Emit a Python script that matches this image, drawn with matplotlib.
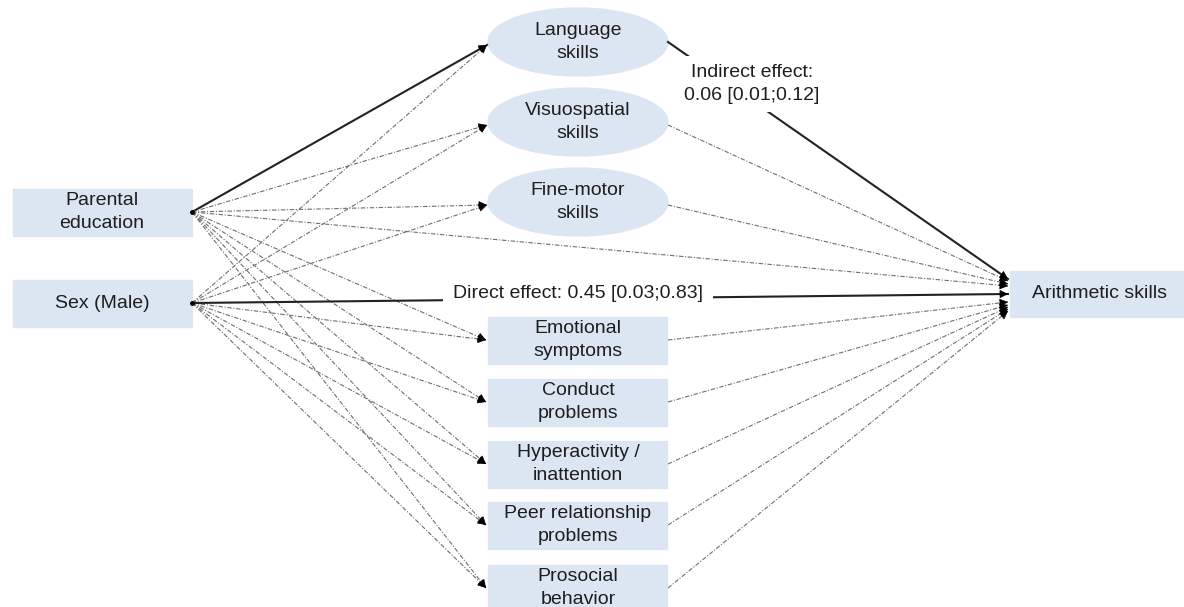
import matplotlib.pyplot as plt
from matplotlib.patches import Ellipse, Rectangle

plt.rcParams['font.family'] = ['Liberation Sans', 'DejaVu Sans']

# node labels
predictors = ['Parental\neducation', 'Sex (Male)']
cognitive = ['Language\nskills', 'Visuospatial\nskills', 'Fine-motor\nskills']
behaviour = ['Emotional\nsymptoms', 'Conduct\nproblems', 'Hyperactivity /\ninattention',
             'Peer relationship\nproblems', 'Prosocial\nbehavior']
outcome = 'Arithmetic skills'
indirect_label = 'Indirect effect:\n0.06 [0.01;0.12]'
direct_label = 'Direct effect: 0.45 [0.03;0.83]'

# layout (pixels)
pred_y = [212, 303]
cog_y = [42, 122, 202]
beh_y = [340, 402, 464, 525, 588]
out_y = 294
out_in_y_cog = [279, 281, 284]
out_in_y_beh = [302, 305, 307, 309, 311]
pe_out_y = 286

box_col = '#dce6f2'
txt_col = '#1e1e1e'
fs = 14
ls_ = 1.4
dash = (0, (4, 1.5, 1, 1.5))

fig = plt.figure(figsize=(11.84, 6.07), dpi=100)
ax = fig.add_axes([0, 0, 1, 1])
ax.set_xlim(0, 1184)
ax.set_ylim(607, 0)
ax.axis('off')


def arrow(x0, y0, x1, y1, solid=False):
    if solid:
        ax.plot([x0, x1], [y0, y1], color='#222222', lw=1.5, zorder=2)
    else:
        ax.plot([x0, x1], [y0, y1], color='#6e6e6e', lw=0.8, ls=dash, zorder=2)
    dx, dy = x1 - x0, y1 - y0
    d = (dx ** 2 + dy ** 2) ** 0.5
    ax.annotate('', xy=(x1, y1), xytext=(x1 - dx / d * 6, y1 - dy / d * 6),
                arrowprops=dict(arrowstyle='-|>', color='black', lw=0.5,
                                mutation_scale=13, shrinkA=0, shrinkB=0), zorder=3)


# boxes for predictors
for lab, y in zip(predictors, pred_y):
    ax.add_patch(Rectangle((13, y - 23), 179, 47, color=box_col, zorder=1))
    ax.text(102, y, lab, ha='center', va='center', fontsize=fs, linespacing=ls_, color=txt_col)
    ax.plot(192, y, 'o', color='black', ms=2.5, zorder=4)

for lab, y in zip(cognitive, cog_y):
    ax.add_patch(Ellipse((578, y), 180, 68, color=box_col, zorder=1))
    ax.text(578, y, lab, ha='center', va='center', fontsize=fs, linespacing=ls_, color=txt_col, zorder=5)

for lab, y in zip(behaviour, beh_y):
    ax.add_patch(Rectangle((488, y - 23), 179, 47, color=box_col, zorder=1))
    ax.text(578, y, lab, ha='center', va='center', fontsize=fs, linespacing=ls_, color=txt_col, zorder=5)

ax.add_patch(Rectangle((1010, out_y - 23), 180, 46, color=box_col, zorder=1))
ax.text(1100, out_y, outcome, ha='center', va='center', fontsize=fs, color=txt_col)

# predictor -> mediators
for i, py in enumerate(pred_y):
    for j, y in enumerate(cog_y):
        arrow(192, py, 487, y + 3, solid=(i == 0 and j == 0))
    for y in beh_y:
        arrow(192, py, 486, y)

# parental education -> outcome
arrow(192, pred_y[0], 1008, pe_out_y)

# mediators -> outcome
arrow(668, cog_y[0], 1008, out_in_y_cog[0], solid=True)
for y, ey in zip(cog_y[1:], out_in_y_cog[1:]):
    arrow(668, y + 3, 1008, ey)
for y, ey in zip(beh_y, out_in_y_beh):
    arrow(668, y, 1008, ey)

# direct effect
arrow(192, pred_y[1], 1008, out_y, solid=True)

ax.text(752, 84, indirect_label, ha='center', va='center', fontsize=fs, linespacing=ls_,
        color=txt_col, zorder=6, bbox=dict(facecolor='white', edgecolor='none', pad=6))
ax.text(578, 293, direct_label, ha='center', va='center', fontsize=fs, color=txt_col,
        zorder=6, bbox=dict(facecolor='white', edgecolor='none', pad=7))

fig.savefig('out.png', dpi=100)
